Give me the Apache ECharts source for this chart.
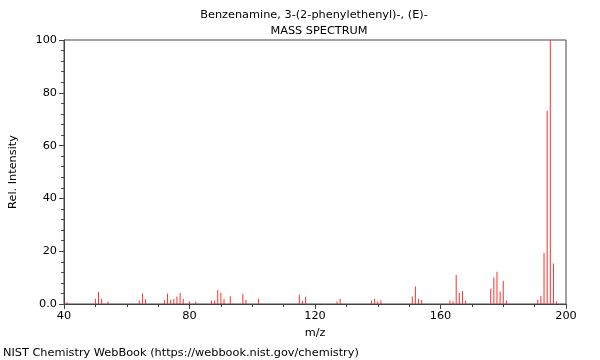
<!DOCTYPE html>
<html>
<head>
<meta charset="utf-8">
<script src="https://cdn.jsdelivr.net/npm/echarts@6/dist/echarts.min.js"></script>
<style>html,body{margin:0;padding:0;background:#fff}#c{width:600px;height:360px}</style>
</head>
<body>
<div id="c"></div>
<script>
var titleLines = ['Benzenamine, 3-(2-phenylethenyl)-, (E)-', 'MASS SPECTRUM'];
var xTicks = [40, 80, 120, 160, 200];
var yTicks = [0, 20, 40, 60, 80, 100];
var mz = [41, 50, 51, 52, 54, 64, 65, 66, 72, 73, 74, 75, 76, 77, 78, 80, 82,
  87, 88, 89, 90, 91, 93, 97, 98, 102, 115, 116, 117, 127, 128,
  138, 139, 140, 141, 151, 152, 153, 154, 163, 164, 165, 166, 167, 168,
  176, 177, 178, 179, 180, 181, 191, 192, 193, 194, 195, 196, 197];
var intensity = [0.7, 2.0, 4.5, 2.0, 0.9, 1.3, 4.0, 1.8, 1.5, 4.0, 1.6, 1.9, 2.8, 4.2, 1.9, 0.9, 0.9,
  1.3, 1.3, 5.3, 4.3, 1.9, 2.9, 3.9, 1.5, 2.0, 3.5, 1.1, 2.7, 0.9, 2.0,
  1.3, 2.0, 0.9, 1.4, 2.8, 6.6, 2.0, 1.5, 1.3, 1.0, 11.0, 4.3, 4.9, 1.1,
  5.8, 10.0, 12.2, 4.7, 8.8, 1.3, 1.6, 3.0, 19.3, 73.2, 100, 15.3, 0.9];

var data = mz.map(function (m, i) { return [m, intensity[i]]; });
var chart = echarts.init(document.getElementById('c'), null, {renderer: 'canvas'});
var font = 'DejaVu Sans';
chart.setOption({
  animation: false,
  textStyle: {fontFamily: font},
  title: [
    {text: titleLines[0], left: 309, top: 5, textAlign: 'center',
     textStyle: {fontSize: 11.3, fontWeight: 'normal', color: '#000', fontFamily: font}},
    {text: titleLines[1], left: 314, top: 21, textAlign: 'center',
     textStyle: {fontSize: 11.3, fontWeight: 'normal', color: '#000', fontFamily: font}},
    {text: 'NIST Chemistry WebBook (https://webbook.nist.gov/chemistry)', left: 3, top: 348, padding: 0,
     textStyle: {fontSize: 11.3, fontWeight: 'normal', color: '#000', fontFamily: font}}
  ],
  grid: {left: 62, right: 34, top: 40, bottom: 56, show: true, borderColor: '#444', borderWidth: 1, backgroundColor: 'transparent'},
  xAxis: {
    type: 'value', min: xTicks[0], max: xTicks[xTicks.length - 1], interval: 40,
    name: 'm/z', nameLocation: 'middle', nameGap: 24,
    nameTextStyle: {fontSize: 11.3, color: '#000', fontFamily: font},
    axisLine: {lineStyle: {color: '#444'}},
    axisTick: {show: true, length: 5, lineStyle: {color: '#444'}},
    minorTick: {show: true, splitNumber: 4, length: 3, lineStyle: {color: '#444'}},
    axisLabel: {fontSize: 11.3, color: '#000', margin: 7, fontFamily: font},
    splitLine: {show: false}
  },
  yAxis: {
    type: 'value', min: yTicks[0], max: yTicks[yTicks.length - 1], interval: 20,
    name: 'Rel. Intensity', nameLocation: 'middle', nameGap: 45, nameRotate: 90,
    nameTextStyle: {fontSize: 11.3, color: '#000', fontFamily: font},
    axisLine: {show: true, lineStyle: {color: '#444'}},
    axisTick: {show: true, length: 5, lineStyle: {color: '#444'}},
    minorTick: {show: true, splitNumber: 5, length: 3, lineStyle: {color: '#444'}},
    axisLabel: {fontSize: 11.3, color: '#000', margin: 7, fontFamily: font,
      formatter: function (v) { return v === 0 ? '0.0' : String(v); }},
    splitLine: {show: false}
  },
  series: [{
    type: 'bar', data: data, barWidth: 1, barGap: '-100%',
    itemStyle: {color: '#ff3030'},
    silent: true
  }]
});
</script>
</body>
</html>
